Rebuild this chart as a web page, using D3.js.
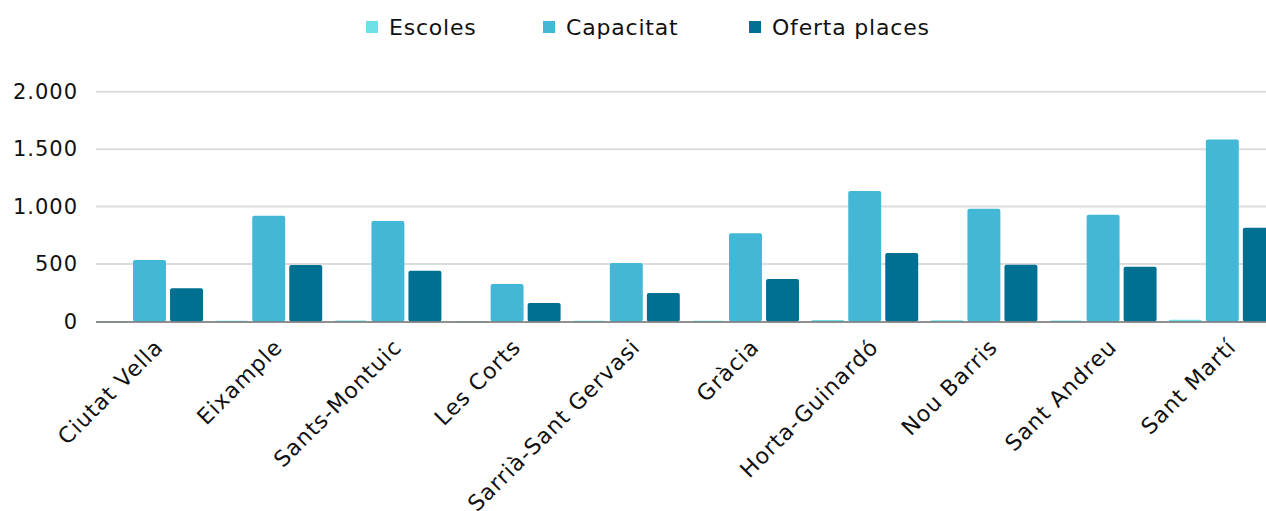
<!DOCTYPE html>
<html>
<head>
<meta charset="utf-8">
<script src="https://cdn.jsdelivr.net/npm/d3@7"></script>
<style>
  html, body { margin: 0; padding: 0; background: #fff; }
  svg { display: block; font-family: "DejaVu Sans", "Noto Sans", sans-serif; }
</style>
</head>
<body>
<svg id="chart" width="1266" height="511"></svg>
<script>
// Districtes de Barcelona: escoles, capacitat i oferta de places
const DISTRICTES = ["Ciutat Vella", "Eixample", "Sants-Montuic", "Les Corts", "Sarrià-Sant Gervasi",
  "Gràcia", "Horta-Guinardó", "Nou Barris", "Sant Andreu", "Sant Martí"];
const ESCOLES   = [5, 7, 8, 4, 6, 6, 13, 11, 8, 16];
const CAPACITAT = [535, 920, 874, 326, 509, 767, 1135, 981, 929, 1584];
const OFERTA    = [289, 491, 442, 161, 248, 370, 596, 494, 477, 816];
const SERIES = ["Escoles", "Capacitat", "Oferta places"];
const COLORS = ["#6de0e6", "#42b8d6", "#007092"];
const Y_TICKS = [0, 500, 1000, 1500, 2000];

const svg = d3.select("#chart");
const left = 96, zeroY = 321.5, topY = 91.7;
const step = 119.2, groupW = 107;

const x0 = d3.scaleBand().domain(DISTRICTES)
  .range([left, left + 9 * step + groupW])
  .paddingInner((step - groupW) / step).paddingOuter(0);
const x1 = d3.scaleBand().domain(SERIES).range([0, x0.bandwidth()])
  .paddingInner(0.11).paddingOuter(0);
const y = d3.scaleLinear().domain([0, 2000]).range([zeroY, topY]);

// gridlines
svg.append("g").selectAll("line").data(Y_TICKS.filter((d) => d > 0)).join("line")
  .attr("x1", left).attr("x2", 1266)
  .attr("y1", (d) => y(d)).attr("y2", (d) => y(d))
  .attr("stroke", "#dcdcdc").attr("stroke-width", 2);

// eix Y
const yAxis = svg.append("g").attr("transform", `translate(${left},0)`)
  .call(d3.axisLeft(y).tickValues(Y_TICKS).tickSize(0).tickPadding(18)
    .tickFormat((d) => d3.format(",")(d).replace(/,/g, ".")));
yAxis.select(".domain").remove();
yAxis.selectAll("text").attr("font-size", 21).attr("fill", "#111")
  .attr("letter-spacing", 1)
  .attr("font-family", "DejaVu Sans, sans-serif");

// barres
const rows = DISTRICTES.map((d, i) => ({ d, v: [ESCOLES[i], CAPACITAT[i], OFERTA[i]] }));
const g = svg.append("g").selectAll("g").data(rows).join("g")
  .attr("transform", (r) => `translate(${x0(r.d)},0)`);
g.selectAll("rect").data((r) => r.v.map((v, k) => ({ s: SERIES[k], v, k }))).join("rect")
  .attr("x", (b) => x1(b.s)).attr("width", x1.bandwidth())
  .attr("y", (b) => y(b.v)).attr("height", (b) => zeroY - y(b.v))
  .attr("rx", 2)
  .attr("fill", (b) => COLORS[b.k]);

// eix X
svg.append("line").attr("x1", left).attr("x2", 1266)
  .attr("y1", zeroY + 0.5).attr("y2", zeroY + 0.5)
  .attr("stroke", "#6b6b6b").attr("stroke-width", 1.5);

svg.append("g").selectAll("text").data(DISTRICTES).join("text")
  .attr("transform", (d) => `translate(${x0(d) + x0.bandwidth() / 2 + 15},${zeroY + 27}) rotate(-45)`)
  .attr("text-anchor", "end")
  .attr("font-size", 22).attr("letter-spacing", 1).attr("fill", "#111")
  .text((d) => d);

// llegenda
const LEG_X = [366, 543, 749];
const leg = svg.append("g").selectAll("g").data(SERIES).join("g")
  .attr("transform", (d, i) => `translate(${LEG_X[i]},21)`);
leg.append("rect").attr("width", 12).attr("height", 12).attr("fill", (d, i) => COLORS[i]);
leg.append("text").attr("x", 23).attr("y", 13.5).attr("font-size", 22)
  .attr("letter-spacing", 0.8).attr("fill", "#111")
  .text((d) => d);
</script>
</body>
</html>
